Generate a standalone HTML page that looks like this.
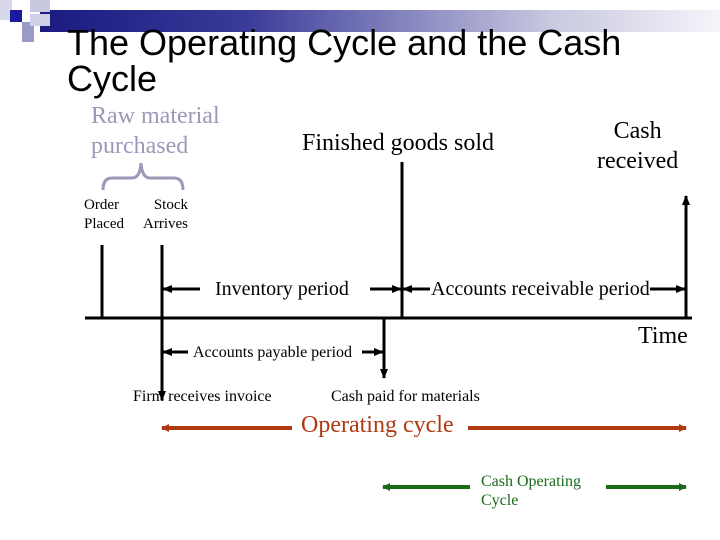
<!DOCTYPE html>
<html><head><style>
body{margin:0;width:720px;height:540px;background:#fff;overflow:hidden;position:relative;font-family:"Liberation Serif",serif}
.t{position:absolute;white-space:nowrap}
</style></head><body>
<div style="position:absolute;left:40px;top:10px;width:680px;height:22px;background:linear-gradient(90deg,#1a1a80 0%,#3a3a99 30%,#c8c8e0 75%,#f4f4fa 100%)"></div>
<div style="position:absolute;left:0;top:0;width:12px;height:20px;background:#d8d8ea"></div>
<div style="position:absolute;left:30px;top:0;width:20px;height:12px;background:#c8c8e0"></div>
<div style="position:absolute;left:10px;top:10px;width:12px;height:12px;background:#1a1aa0"></div>
<div style="position:absolute;left:22px;top:22px;width:12px;height:20px;background:#9a9ac8"></div>
<div style="position:absolute;left:30px;top:14px;width:20px;height:12px;background:#d0d0e6"></div>
<div class="t" style="left:67px;top:25px;font:36px/36px 'Liberation Sans',sans-serif;color:#000">The Operating Cycle and the Cash<br>Cycle</div>
<div class="t" style="left:91px;top:101px;font:24px/30px 'Liberation Serif',serif;color:#9a9ab8">Raw material<br>purchased</div>
<div class="t" style="left:302px;top:130px;font:24px 'Liberation Serif',serif">Finished goods sold</div>
<div class="t" style="left:597px;top:116px;font:24px/30px 'Liberation Serif',serif;text-align:center">Cash<br>received</div>
<div class="t" style="left:84px;top:196px;font:15px/19px 'Liberation Serif',serif">Order<br>Placed</div>
<div class="t" style="left:143px;top:196px;font:15px/19px 'Liberation Serif',serif;text-align:right">Stock<br>Arrives</div>
<div class="t" style="left:215px;top:278px;font:20px 'Liberation Serif',serif">Inventory period</div>
<div class="t" style="left:431px;top:278px;font:20px 'Liberation Serif',serif">Accounts receivable period</div>
<div class="t" style="left:638px;top:323px;font:24px 'Liberation Serif',serif">Time</div>
<div class="t" style="left:193px;top:344px;font:16px 'Liberation Serif',serif">Accounts payable period</div>
<div class="t" style="left:133px;top:388px;font:16px 'Liberation Serif',serif">Firm receives invoice</div>
<div class="t" style="left:331px;top:388px;font:16px 'Liberation Serif',serif">Cash paid for materials</div>
<div class="t" style="left:301px;top:412px;font:24px 'Liberation Serif',serif;color:#b03a12">Operating cycle</div>
<div class="t" style="left:481px;top:472px;font:16px/19px 'Liberation Serif',serif;color:#1a6a1a">Cash Operating<br>Cycle</div>
<svg width="720" height="540" style="position:absolute;left:0;top:0">
<defs>
<marker id="a" markerWidth="10" markerHeight="8" refX="9" refY="4" orient="auto" markerUnits="userSpaceOnUse"><path d="M0,0 L10,4 L0,8z" fill="#000"/></marker>
<marker id="r" markerWidth="8" markerHeight="8" refX="7" refY="4" orient="auto" markerUnits="userSpaceOnUse"><path d="M0,0 L8,4 L0,8z" fill="#b03a12"/></marker>
<marker id="g" markerWidth="8" markerHeight="8" refX="7" refY="4" orient="auto" markerUnits="userSpaceOnUse"><path d="M0,0 L8,4 L0,8z" fill="#1a6a1a"/></marker>
</defs>
<path d="M103,190 Q103,178 112,178 L132,178 Q140,178 141,163 Q142,178 150,178 L174,178 Q183,178 183,190" fill="none" stroke="#9a9ab8" stroke-width="3"/>
<g stroke="#000" stroke-width="3" fill="none">
<line x1="85" y1="318" x2="692" y2="318"/>
<line x1="102" y1="245" x2="102" y2="318"/>
<line x1="162" y1="245" x2="162" y2="400" marker-end="url(#a)"/>
<line x1="402" y1="162" x2="402" y2="318"/>
<line x1="686" y1="318" x2="686" y2="196" marker-end="url(#a)"/>
<line x1="384" y1="318" x2="384" y2="378" marker-end="url(#a)"/>
<line x1="200" y1="289" x2="163" y2="289" marker-end="url(#a)"/>
<line x1="370" y1="289" x2="401" y2="289" marker-end="url(#a)"/>
<line x1="430" y1="289" x2="403" y2="289" marker-end="url(#a)"/>
<line x1="650" y1="289" x2="685" y2="289" marker-end="url(#a)"/>
<line x1="188" y1="352" x2="163" y2="352" marker-end="url(#a)"/>
<line x1="362" y1="352" x2="383" y2="352" marker-end="url(#a)"/>
</g>
<g stroke="#b03a12" stroke-width="4">
<line x1="292" y1="428" x2="162" y2="428" marker-end="url(#r)"/>
<line x1="468" y1="428" x2="686" y2="428" marker-end="url(#r)"/>
</g>
<g stroke="#1a6a1a" stroke-width="4">
<line x1="470" y1="487" x2="383" y2="487" marker-end="url(#g)"/>
<line x1="606" y1="487" x2="686" y2="487" marker-end="url(#g)"/>
</g>
</svg>
</body></html>
